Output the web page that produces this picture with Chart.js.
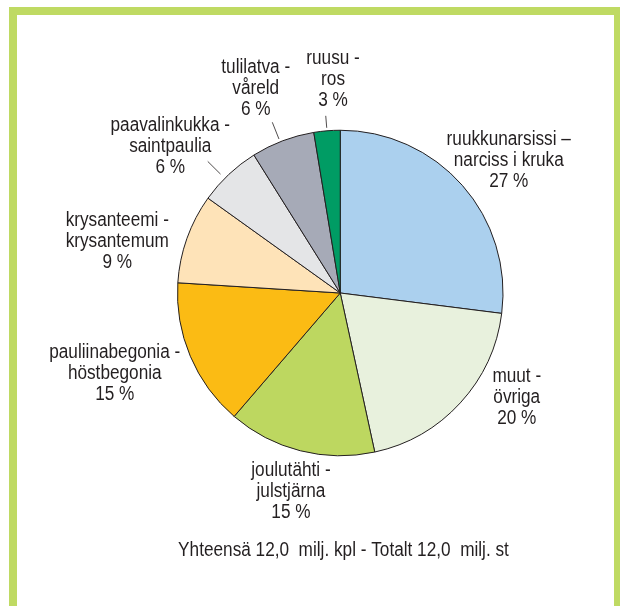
<!DOCTYPE html>
<html>
<head>
<meta charset="utf-8">
<script src="https://cdn.jsdelivr.net/npm/chart.js@4.4.0/dist/chart.umd.min.js"></script>
<style>
  html, body { margin: 0; padding: 0; background: #ffffff; width: 620px; height: 606px; overflow: hidden; }
  #frame { position: absolute; left: 9px; top: 7px; width: 613px; height: 620px; box-sizing: border-box;
           border-top: 8px solid #bfda63; border-left: 8px solid #bfda63; border-right: 8px solid #bfda63; }
  #wrap { position: absolute; left: 0; top: 0; width: 620px; height: 606px; }
</style>
</head>
<body>
<div id="frame"></div>
<div id="wrap"><canvas id="c" width="620" height="606"></canvas></div>
<script>
// ---- data ----
const categories = [
  ["ruukkunarsissi \u2013", "narciss i kruka"],
  ["muut -", "övriga"],
  ["joulutähti -", "julstjärna"],
  ["pauliinabegonia -", "höstbegonia"],
  ["krysanteemi -", "krysantemum"],
  ["paavalinkukka -", "saintpaulia"],
  ["tulilatva -", "våreld"],
  ["ruusu -", "ros"]
];
const shares = [27.0, 19.6, 14.7, 14.7, 8.9, 6.2, 6.3, 2.6];
const pctLabels = ["27 %", "20 %", "15 %", "15 %", "9 %", "6 %", "6 %", "3 %"];
const totalText = "Yhteensä 12,0  milj. kpl - Totalt 12,0  milj. st";

// ---- styles ----
const sliceColors = ["#abd0ee", "#e8f1dd", "#bdd760", "#fbbb14", "#fee3b8", "#e4e5e7", "#a6aab7", "#009c64"];
const textColor = "#231f20";
const FONT = "20px 'Liberation Sans', Arial, sans-serif";
const X_SCALE = 0.86;   // condensed look
const LINE_H = 21;
// label anchor offsets relative to pie centre (px): centre x, first baseline y
const labelOffsets = [
  [168.5, -148.5], [176.5, 89], [-49.3, 183], [-225.5, 64.6],
  [-223, -67], [-170, -161.6], [-84.5, -219.6], [-7.2, -229.2]
];
// leader lines: index -> [angle shift (deg), inner extra radius, outer extra radius]
const leaders = { 5: [-2.0, 6, 24], 6: [-1.0, 3, 21], 7: [0, 3, 15] };

function condensedText(ctx, t, x, y) {
  ctx.save();
  ctx.translate(x, y);
  ctx.scale(X_SCALE, 1);
  ctx.fillText(t, 0, 0);
  ctx.restore();
}

const labelPlugin = {
  id: 'pieLabels',
  afterDatasetsDraw(chart) {
    const ctx = chart.ctx;
    const meta = chart.getDatasetMeta(0);
    const arc0 = meta.data[0];
    const cx = arc0.x, cy = arc0.y, r = arc0.outerRadius;
    ctx.save();
    ctx.fillStyle = textColor;
    ctx.strokeStyle = textColor;
    ctx.font = FONT;
    ctx.textAlign = 'center';
    ctx.textBaseline = 'alphabetic';
    meta.data.forEach((arc, i) => {
      const [ox, oy] = labelOffsets[i];
      const lines = categories[i].concat([pctLabels[i]]);
      lines.forEach((t, k) => condensedText(ctx, t, cx + ox, cy + oy + k * LINE_H));
      if (leaders[i]) {
        const [dA, r1, r2] = leaders[i];
        const a = (arc.startAngle + arc.endAngle) / 2 + dA * Math.PI / 180;
        ctx.lineWidth = 0.8;
        ctx.beginPath();
        ctx.moveTo(cx + Math.cos(a) * (r + r1), cy + Math.sin(a) * (r + r1));
        ctx.lineTo(cx + Math.cos(a) * (r + r2), cy + Math.sin(a) * (r + r2));
        ctx.stroke();
      }
    });
    condensedText(ctx, totalText, 343.5, 556);
    ctx.restore();
  }
};

new Chart(document.getElementById('c'), {
  type: 'pie',
  data: {
    labels: categories.map(c => c.join(' ')),
    datasets: [{
      data: shares,
      backgroundColor: sliceColors,
      borderColor: textColor,
      borderWidth: 1
    }]
  },
  options: {
    responsive: false,
    animation: false,
    devicePixelRatio: 1,
    layout: { padding: { left: 177, right: 116.5, top: 129.5, bottom: 149.5 } },
    plugins: { legend: { display: false }, tooltip: { enabled: false } }
  },
  plugins: [labelPlugin]
});
</script>
</body>
</html>
